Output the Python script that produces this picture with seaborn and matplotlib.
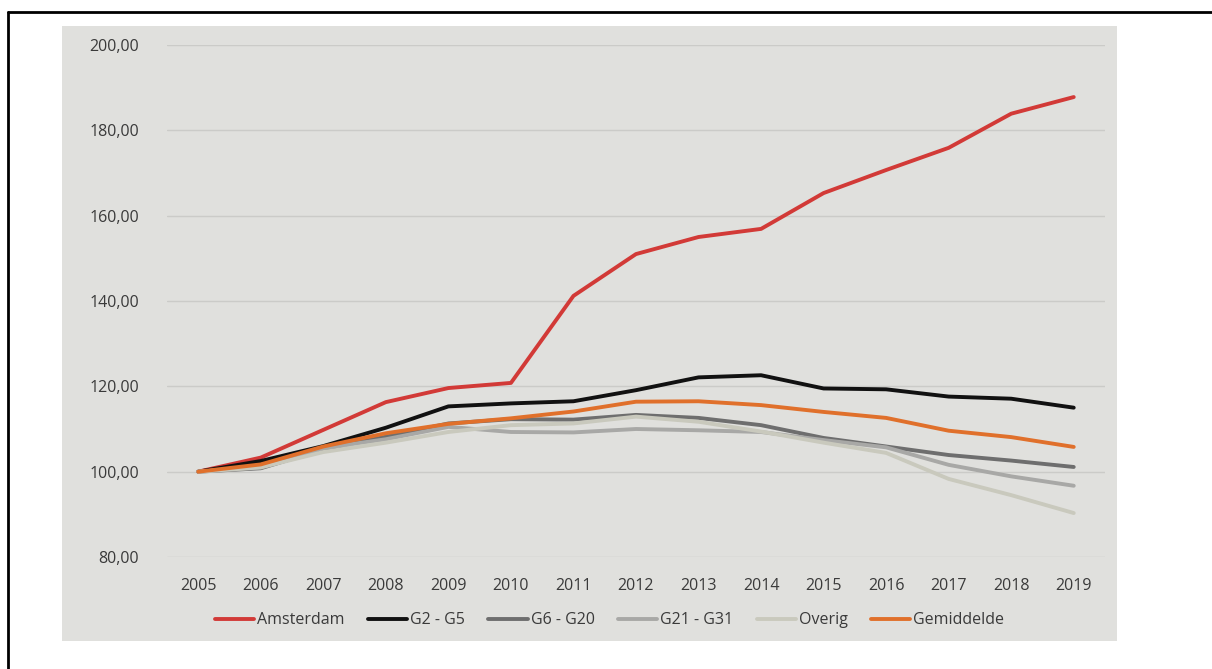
import pandas as pd
import numpy as np
import seaborn as sns
import matplotlib.pyplot as plt
from matplotlib.patches import Rectangle
from matplotlib.lines import Line2D

# Index 2005 = 100
years = list(range(2005, 2020))
amsterdam = [100.0, 103.3, 109.8, 116.3, 119.6, 120.8, 141.2, 151.0, 155.0, 156.9, 165.3, 170.7, 175.9, 183.9, 187.8]
g2_g5 = [100.0, 102.5, 106.0, 110.3, 115.3, 116.0, 116.5, 119.1, 122.1, 122.6, 119.5, 119.3, 117.6, 117.1, 115.0]
g6_g20 = [100.0, 100.8, 105.2, 108.2, 111.3, 112.3, 112.2, 113.3, 112.6, 110.9, 107.9, 105.9, 103.9, 102.6, 101.1]
g21_g31 = [100.0, 101.0, 105.5, 107.6, 110.5, 109.3, 109.2, 110.0, 109.7, 109.3, 107.4, 105.7, 101.6, 98.9, 96.7]
overig = [100.0, 101.0, 104.6, 106.8, 109.3, 110.9, 111.3, 112.9, 111.7, 109.4, 106.8, 104.4, 98.3, 94.5, 90.3]
gemiddelde = [100.0, 101.7, 105.9, 109.0, 111.2, 112.5, 114.1, 116.4, 116.5, 115.6, 114.0, 112.6, 109.6, 108.1, 105.8]

series = {
    'Amsterdam': amsterdam,
    'G2 - G5': g2_g5,
    'G6 - G20': g6_g20,
    'G21 - G31': g21_g31,
    'Overig': overig,
    'Gemiddelde': gemiddelde,
}
colors = {
    'Amsterdam': '#d23a37',
    'G2 - G5': '#111111',
    'G6 - G20': '#6e6e6e',
    'G21 - G31': '#a8a8a6',
    'Overig': '#c9c9bd',
    'Gemiddelde': '#e0702b',
}

df = pd.DataFrame([
    {'jaar': y, 'waarde': v, 'groep': name}
    for name, vals in series.items()
    for y, v in zip(years, vals)
])

sns.set_style("white")
plt.rcParams['font.family'] = ['Open Sans', 'DejaVu Sans']
text_color = '#3a3a3a'

fig = plt.figure(figsize=(12.12, 6.69), dpi=100)

# outer frame (top and left edge) and grey panel
fig.add_artist(Line2D([8 / 1212, 8 / 1212], [0, 1 - 12 / 669], color='black', lw=2))
fig.add_artist(Line2D([8 / 1212, 1], [1 - 12 / 669, 1 - 12 / 669], color='black', lw=2))
fig.add_artist(Rectangle((62 / 1212, 28 / 669), 1055 / 1212, 615 / 669,
                         facecolor='#e0e0dd', edgecolor='none', zorder=0))

ax = fig.add_axes([167 / 1212, 112 / 669, 938 / 1212, 512 / 669])
ax.set_facecolor('none')

sns.lineplot(data=df, x='jaar', y='waarde', hue='groep', hue_order=list(series),
             palette=colors, linewidth=2.8, ax=ax, legend=False, zorder=3)

ax.set_xlim(2004.5, 2019.5)
ax.set_ylim(80, 200)
ax.set_xticks(years)
ax.set_yticks(range(80, 201, 20))
ax.set_yticklabels([f'{v},00' for v in range(80, 201, 20)])
ax.tick_params(axis='both', length=0, labelsize=11.5, labelcolor=text_color)
ax.tick_params(axis='y', pad=20)
ax.tick_params(axis='x', pad=15)
ax.grid(axis='y', color='#cbcbc8', linewidth=1)
ax.grid(axis='x', visible=False)
ax.set_xlabel('')
ax.set_ylabel('')
sns.despine(ax=ax, left=True, bottom=True)

handles = [Line2D([0], [0], color=colors[n], lw=2.8) for n in series]
fig.legend(handles, list(series), loc='center', bbox_to_anchor=(0.503, 0.073),
           ncol=6, frameon=False, handlelength=2.45, handletextpad=0.2,
           columnspacing=1.45, fontsize=11.5, labelcolor=text_color)

plt.savefig('out.png', dpi=100)
